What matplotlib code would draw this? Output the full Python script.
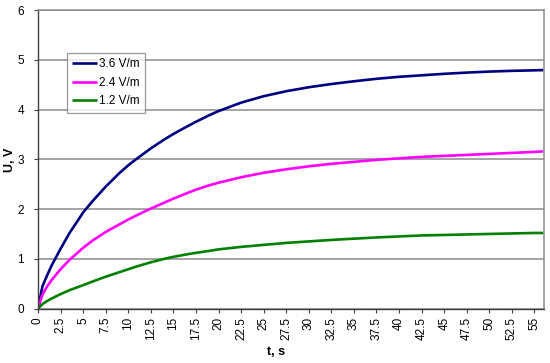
import matplotlib
matplotlib.use('Agg')
import matplotlib.pyplot as plt

plt.rcParams['font.family'] = ['Liberation Sans', 'DejaVu Sans']

# time, s
t = [0, 0.5, 1, 1.5, 2.5, 3.5, 5, 6, 7.5, 9, 10, 11, 12.5, 14, 15, 16.5, 17.5,
     19, 20, 22.5, 25, 27.5, 30, 32.5, 35, 37.5, 40, 42.5, 45, 47.5, 50, 52.5,
     55, 56]

# U, V for each field strength
u_36 = [0, 0.45, 0.66, 0.86, 1.2, 1.52, 1.93, 2.15, 2.45, 2.72, 2.88, 3.02, 3.22,
        3.40, 3.51, 3.66, 3.755, 3.89, 3.97, 4.14, 4.27, 4.37, 4.45, 4.515, 4.57,
        4.62, 4.66, 4.69, 4.72, 4.745, 4.765, 4.78, 4.79, 4.795]
u_24 = [0, 0.28, 0.44, 0.57, 0.79, 0.98, 1.22, 1.36, 1.54, 1.69, 1.79, 1.88, 2.01,
        2.13, 2.21, 2.32, 2.39, 2.48, 2.53, 2.64, 2.73, 2.8, 2.86, 2.91, 2.95,
        2.99, 3.02, 3.05, 3.07, 3.09, 3.11, 3.13, 3.15, 3.16]
u_12 = [0, 0.09, 0.15, 0.2, 0.29, 0.37, 0.47, 0.54, 0.64, 0.73, 0.79, 0.85, 0.93,
        1.0, 1.04, 1.09, 1.12, 1.16, 1.19, 1.24, 1.28, 1.32, 1.35, 1.38, 1.405,
        1.43, 1.45, 1.47, 1.48, 1.49, 1.5, 1.51, 1.52, 1.52]

labels = ['3.6 V/m', '2.4 V/m', '1.2 V/m']
colors = ['#000080', '#FF00FF', '#008000']

x_ticks = [i * 2.5 for i in range(23)]
x_tick_labels = ['0', '2.5', '5', '7.5', '10', '12.5', '15', '17.5', '20', '22.5',
                 '25', '27.5', '30', '32.5', '35', '37.5', '40', '42.5', '45',
                 '47.5', '50', '52.5', '55']

fig = plt.figure(figsize=(5.5, 3.63), dpi=100)
ax = fig.add_axes([0.069, 0.150, 0.920, 0.822])

for u, lab, c in zip([u_36, u_24, u_12], labels, colors):
    ax.plot(t, u, color=c, lw=1.9, label=lab, solid_capstyle='butt')

ax.set_xlim(0, 56.05)
ax.set_ylim(0, 6)
ax.set_xticks(x_ticks)
ax.set_xticklabels(x_tick_labels, rotation=90, fontsize=8.5)
ax.set_yticks(range(7))
ax.tick_params(axis='y', labelsize=8.5, length=3, width=0.8, color='#404040', pad=7)
ax.tick_params(axis='x', length=3, width=0.8, color='#404040', pad=3)
ax.yaxis.grid(True, color='#8c8c8c', lw=1.1)
ax.set_axisbelow(True)

for s in ['top', 'right']:
    ax.spines[s].set_color('#8c8c8c')
    ax.spines[s].set_linewidth(1.1)
for s in ['left', 'bottom']:
    ax.spines[s].set_color('#404040')
    ax.spines[s].set_linewidth(1.0)

ax.set_xlabel('t, s', fontsize=9, fontweight='bold')
ax.xaxis.set_label_coords(0.47, -0.125)
ax.set_ylabel('U, V', fontsize=9, fontweight='bold')
ax.yaxis.label.set_va('center')
ax.yaxis.set_label_coords(-0.056, 0.5)

leg = ax.legend(loc='upper left', bbox_to_anchor=(0.057, 0.856), fontsize=8.5,
                frameon=True, fancybox=False, handlelength=2.1, handletextpad=0.2,
                borderpad=0.45, labelspacing=0.55, borderaxespad=0)
leg.get_frame().set_edgecolor('#808080')
leg.get_frame().set_linewidth(0.9)

fig.savefig('out.png', dpi=100)
